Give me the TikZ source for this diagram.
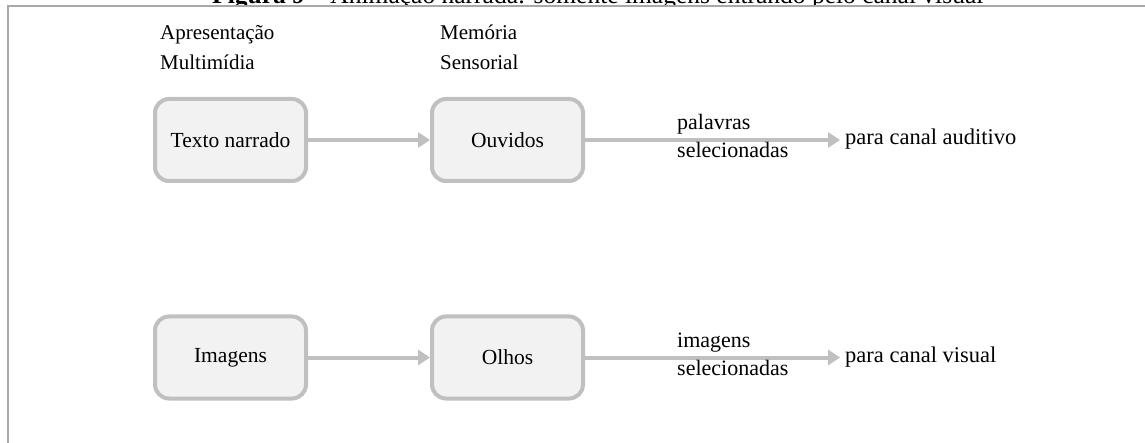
\documentclass[tikz,border=0pt]{standalone}
\usepackage{fontspec}
\setmainfont{Liberation Serif}
\usetikzlibrary{arrows.meta}
\definecolor{boxline}{HTML}{C0C0C0}
\definecolor{boxfill}{HTML}{F2F2F2}
\definecolor{framecol}{HTML}{A8A8A8}
\tikzset{
  stagebox/.style={draw=boxline, fill=boxfill, line width=4pt, rounded corners=14pt,
    minimum width=151pt, minimum height=82pt, inner sep=0pt,
    font=\fontsize{21.5}{28}\selectfont},
  flow/.style={draw=boxline, line width=4pt,
    -{Triangle[length=12pt,width=15pt,fill=boxline]}},
  label/.style={inner sep=0pt, align=left, anchor=base west,
    font=\fontsize{22}{28}\selectfont},
  target/.style={inner sep=0pt, anchor=base west,
    font=\fontsize{22.5}{28}\selectfont},
  header/.style={inner sep=0pt, align=left, anchor=base west,
    font=\fontsize{21}{30}\selectfont},
}
\begin{document}
\begin{tikzpicture}[x=1pt, y=-1pt]
  \useasboundingbox (0,0) rectangle (1145,443);

  % caption running off the top edge
  \begin{scope}
    \clip (0,0) rectangle (1145,5.3);
    \node[inner sep=0pt, anchor=base west, font=\fontsize{25.5}{30}\selectfont]
      (caption) at (212,4)
      {\textbf{Figura 9} – Animação narrada: somente imagens entrando pelo canal visual};
  \end{scope}

  % frame
  \draw[framecol, line width=2pt] (1145,6.3) -- (8.2,6.3) -- (8.2,443);

  % column headers (anchored on the baseline of their last line)
  \node[header] (hpres) at (160,70) {Apresentação\\Multimídia};
  \node[header] (hmem)  at (440,70) {Memória\\Sensorial};

  % boxes
  \node[stagebox] (texto)   at (230.5,140)   {Texto narrado};
  \node[stagebox] (ouvidos) at (507.5,140)   {Ouvidos};
  \node[stagebox] (imagens) at (230.5,357.5) {Imagens};
  \node[stagebox] (olhos)   at (507.5,357.5) {Olhos};

  \coordinate (audend) at (840,140);
  \coordinate (visend) at (840,357.5);

  % connectors
  \draw[flow] (texto) -- (ouvidos);
  \draw[flow] (imagens) -- (olhos);
  \draw[flow] (ouvidos) -- (audend);
  \draw[flow] (olhos) -- (visend);

  % labels
  \node[label] (palavras) at (677,158) {palavras\\selecionadas};
  \node[label] (imgsel)   at (677,375.5) {imagens\\selecionadas};
  \node[target] (auditivo) at (845,145) {para canal auditivo};
  \node[target] (visual)   at (845,362.5) {para canal visual};
\end{tikzpicture}
\end{document}
